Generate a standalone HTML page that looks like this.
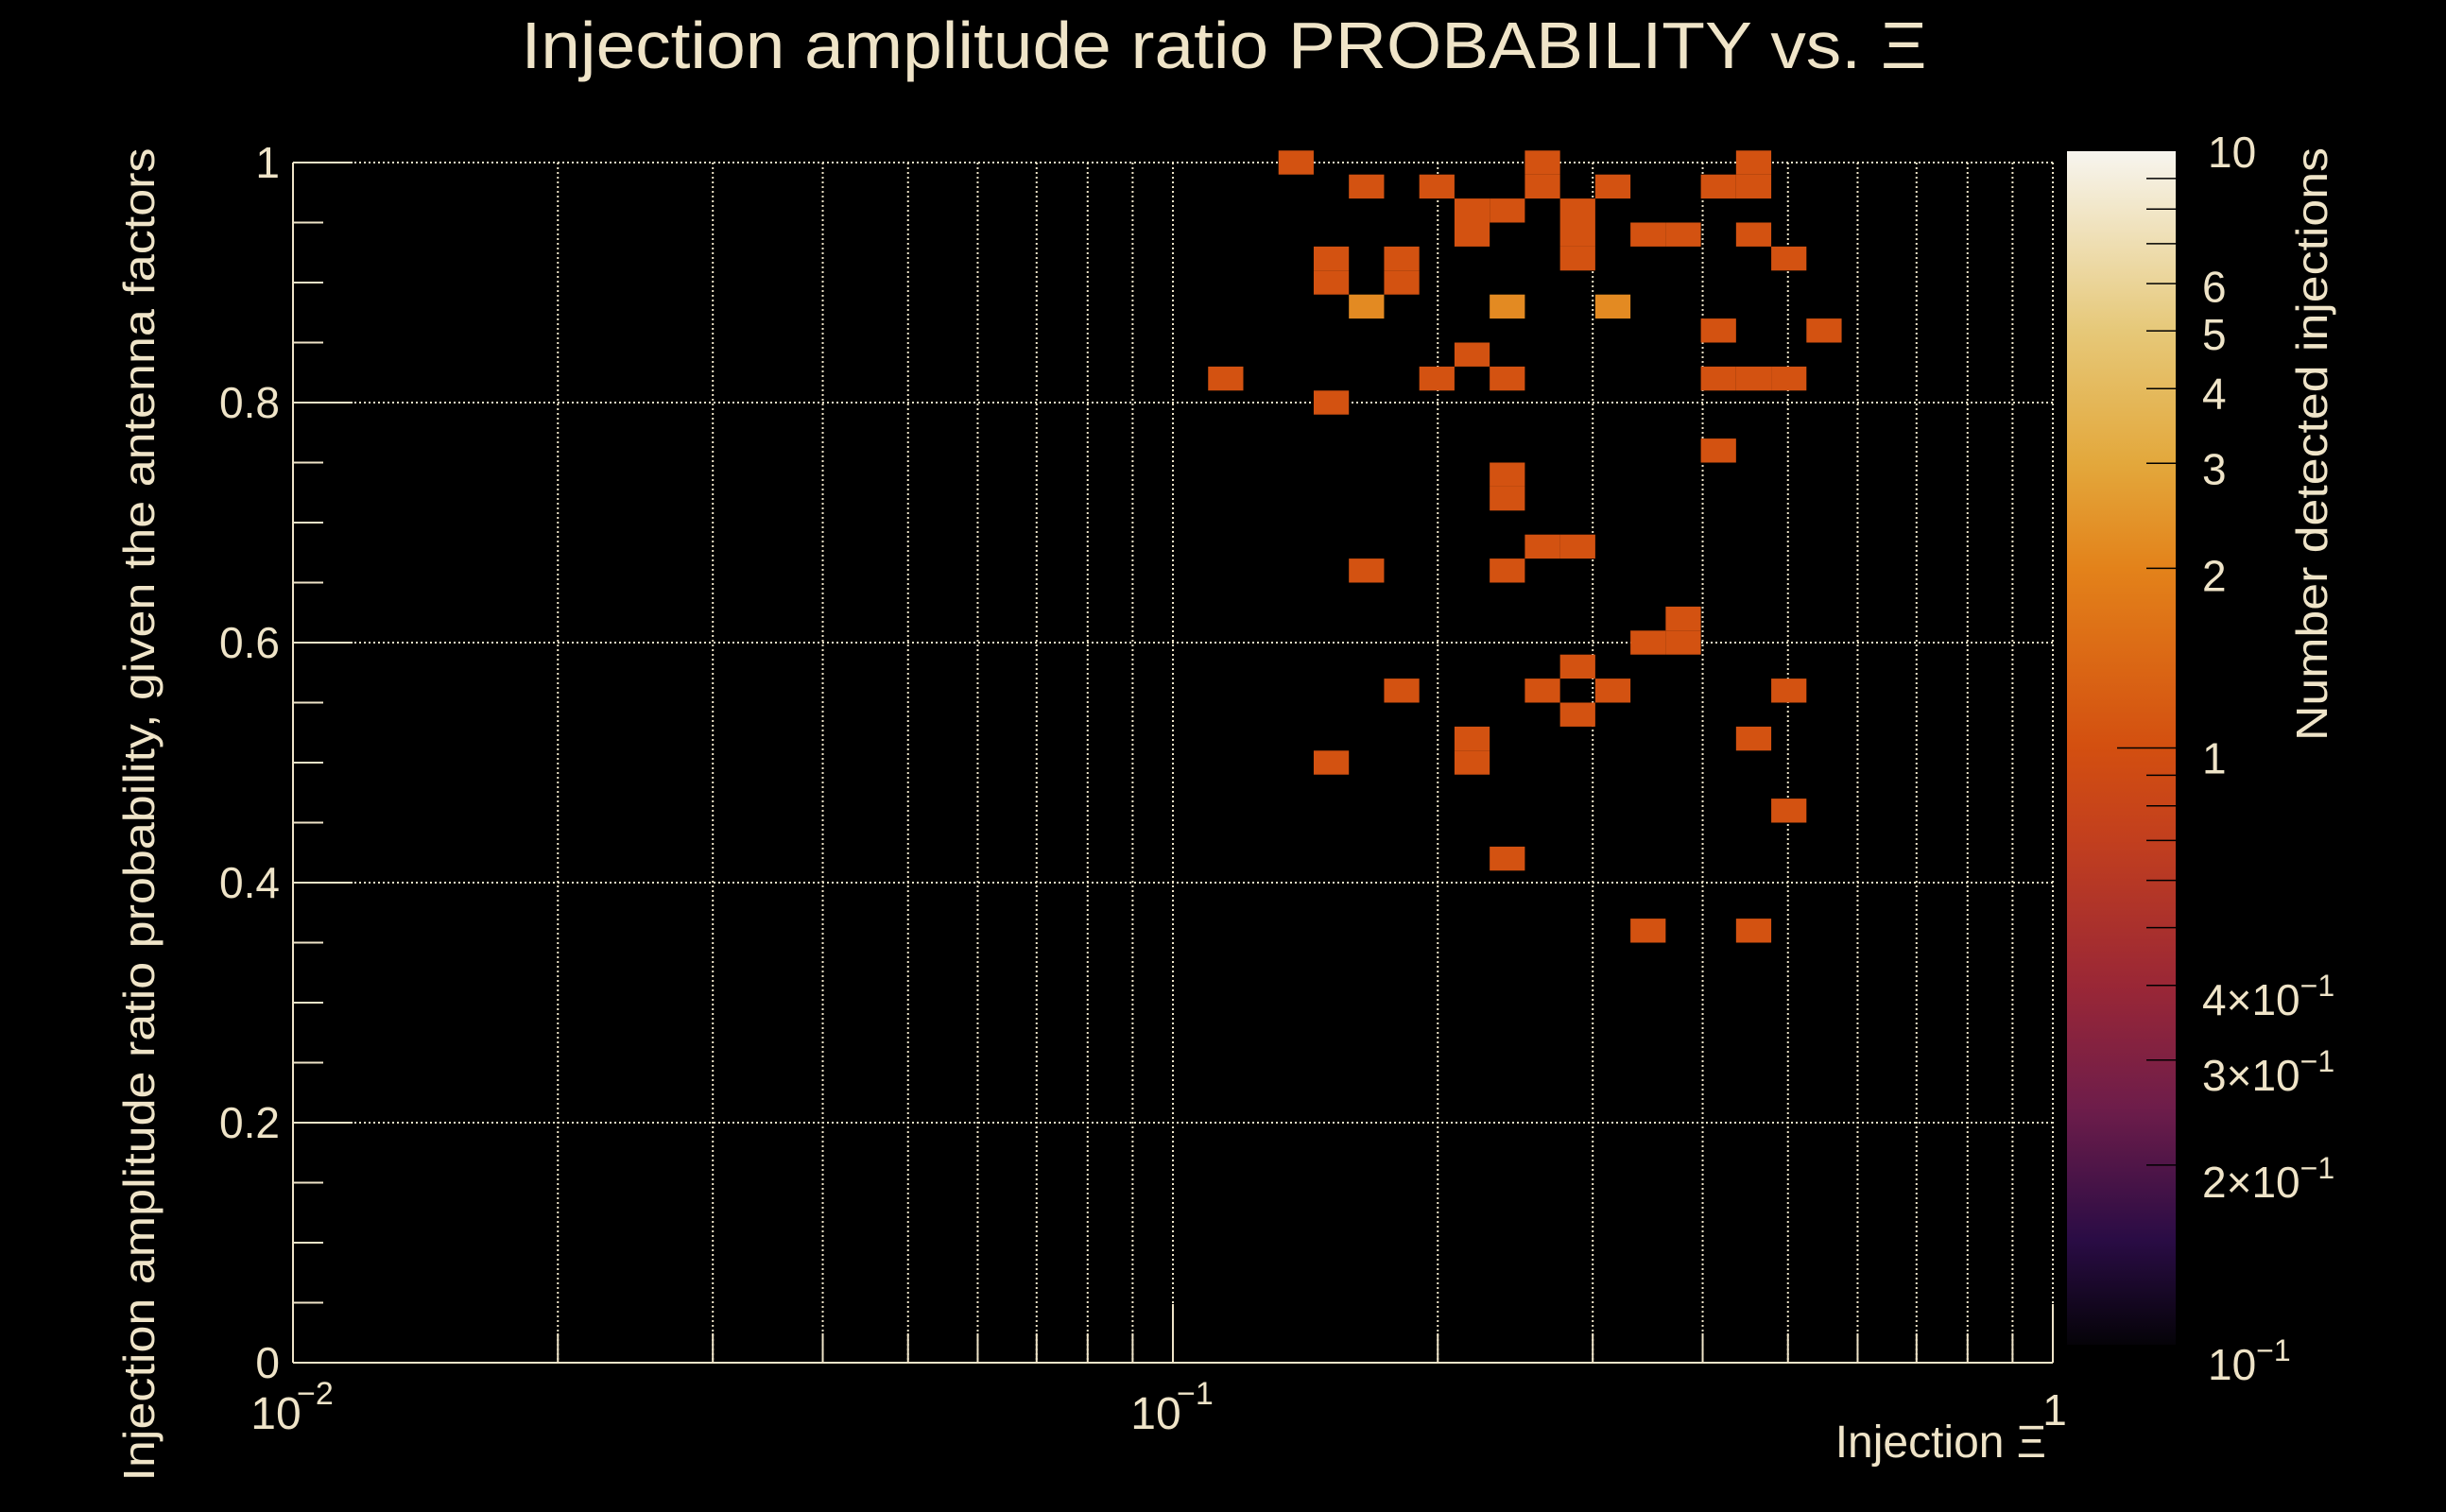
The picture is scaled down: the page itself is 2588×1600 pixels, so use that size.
<!DOCTYPE html>
<html>
<head>
<meta charset="utf-8">
<style>
html,body{margin:0;padding:0;background:#000;}
svg{display:block;}
text{font-family:"Liberation Sans",sans-serif;fill:#efe4c8;}
</style>
</head>
<body>
<svg id="chart" width="2588" height="1600" viewBox="0 0 2588 1600" xmlns="http://www.w3.org/2000/svg">
  <defs>
    <linearGradient id="cbar" x1="0" y1="1" x2="0" y2="0">
      <stop offset="0" stop-color="#050308"/>
      <stop offset="0.088" stop-color="#2a0c45"/>
      <stop offset="0.199" stop-color="#6e1d4a"/>
      <stop offset="0.301" stop-color="#9a2736"/>
      <stop offset="0.423" stop-color="#c23f1e"/>
      <stop offset="0.5" stop-color="#d34f10"/>
      <stop offset="0.65" stop-color="#e3821a"/>
      <stop offset="0.739" stop-color="#e3a83c"/>
      <stop offset="0.849" stop-color="#e6c878"/>
      <stop offset="1" stop-color="#f7f5ef"/>
    </linearGradient>
  </defs>
  <rect x="0" y="0" width="2588" height="1600" fill="#000"/>
  <text x="1295" y="72" font-size="70" text-anchor="middle" textLength="1487" lengthAdjust="spacingAndGlyphs">Injection amplitude ratio PROBABILITY vs.  Ξ</text>
  <g id="grid"></g>
  <g id="cells"></g>
  <g id="axes"></g>
  <text transform="translate(163,862) rotate(-90)" font-size="46" text-anchor="middle" textLength="1411" lengthAdjust="spacingAndGlyphs">Injection amplitude ratio probability, given the antenna factors</text>
  <text x="2165" y="1542" font-size="48" text-anchor="end">Injection Ξ</text>
  <g id="colorbar"></g>
  <text transform="translate(2462,470) rotate(-90)" font-size="46" text-anchor="middle" textLength="628" lengthAdjust="spacingAndGlyphs">Number detected injections</text>
</svg>
<script>
// ---- data ----
const xVals = [0.138,0.263,0.457, 0.166,0.200,0.263,0.316,0.417,0.457, 0.219,0.240,0.288, 0.219,0.288,0.347,0.380,0.457,
  0.151,0.182,0.288,0.501, 0.151,0.182, 0.166,0.240,0.316, 0.417,0.550, 0.219, 0.115,0.200,0.240,0.417,0.457,0.501,
  0.151, 0.417, 0.240, 0.240, 0.263,0.288, 0.166,0.240, 0.380, 0.347,0.380, 0.288, 0.182,0.263,0.316,0.501, 0.288,
  0.219,0.457, 0.151,0.219, 0.501, 0.240, 0.347,0.457];
const yVals = [1.00,1.00,1.00, 0.98,0.98,0.98,0.98,0.98,0.98, 0.96,0.96,0.96, 0.94,0.94,0.94,0.94,0.94,
  0.92,0.92,0.92,0.92, 0.90,0.90, 0.88,0.88,0.88, 0.86,0.86, 0.84, 0.82,0.82,0.82,0.82,0.82,0.82,
  0.80, 0.76, 0.74, 0.72, 0.68,0.68, 0.66,0.66, 0.62, 0.60,0.60, 0.58, 0.56,0.56,0.56,0.56, 0.54,
  0.52,0.52, 0.50,0.50, 0.46, 0.42, 0.36,0.36];
const counts = [1,1,1, 1,1,1,1,1,1, 1,1,1, 1,1,1,1,1, 1,1,1,1, 1,1, 2,2,2, 1,1, 1, 1,1,1,1,1,1,
  1, 1, 1, 1, 1,1, 1,1, 1, 1,1, 1, 1,1,1,1, 1, 1,1, 1,1, 1, 1, 1,1];
const yTickLabels = ["0","0.2","0.4","0.6","0.8","1"];
const yTickValues = [0,0.2,0.4,0.6,0.8,1];
const cbTickValues = [10,6,5,4,3,2,1,0.4,0.3,0.2,0.1];

const NS = "http://www.w3.org/2000/svg";
const X0 = 310, X1 = 2172, Y0 = 1442, Y1 = 172;
const XMIN = -2, XMAX = 0;
function xs(v){ return X0 + (Math.log10(v) - XMIN) / (XMAX - XMIN) * (X1 - X0); }
function ys(v){ return Y0 - v * (Y0 - Y1); }
const NXB = 50, BINW = 0.02;
const CBY0 = 1423, CBY1 = 160, CBX = 2187, CBW = 115;
function cs(v){ return CBY0 - (Math.log10(v) + 1) / 2 * (CBY0 - CBY1); }
const stops = [[0.1,"#050308"],[0.15,"#2a0c45"],[0.25,"#6e1d4a"],[0.4,"#9a2736"],[0.7,"#c23f1e"],[1,"#d35211"],[2,"#e38a22"],[3,"#e3a83c"],[5,"#e6c878"],[10,"#f7f5ef"]];
function hex(c){ return [1,3,5].map(i=>parseInt(c.substr(i,2),16)); }
function color(v){
  const l = Math.log10(v);
  for (let i=0;i<stops.length-1;i++){
    const a=Math.log10(stops[i][0]), b=Math.log10(stops[i+1][0]);
    if (l<=b || i===stops.length-2){
      const t=Math.max(0,Math.min(1,(l-a)/(b-a)));
      const ca=hex(stops[i][1]), cb=hex(stops[i+1][1]);
      return "rgb("+ca.map((x,j)=>Math.round(x+(cb[j]-x)*t)).join(",")+")";
    }
  }
}
function mk(tag, attrs, parent){
  const e=document.createElementNS(NS,tag);
  for (const k in attrs) e.setAttribute(k, attrs[k]);
  parent.appendChild(e); return e;
}
const grid=document.getElementById("grid"), cells=document.getElementById("cells"), axes=document.getElementById("axes"), cb=document.getElementById("colorbar");
const gstyle={stroke:"#efe4c8","stroke-width":2,"stroke-dasharray":"2 3"};

// grid lines
for (let d=-2; d<0; d++){
  for (let m=1; m<=10; m++){
    const v=m*Math.pow(10,d); if (m===1 && d===-2) continue;
    const gx = mk("line", Object.assign({x1:xs(v),x2:xs(v),y1:Y1,y2:Y0},gstyle), grid);
    
    
  }
}
yTickValues.forEach(v=>{
  if (v===0) return;
  const gy = mk("line", Object.assign({x1:X0,x2:X1,y1:ys(v),y2:ys(v)},gstyle), grid);
  
  
});

// cells
for (let i=0;i<xVals.length;i++){
  const col = Math.floor((Math.log10(xVals[i]) - XMIN) / (XMAX - XMIN) * NXB);
  const lx0 = Math.pow(10, XMIN + col*(XMAX-XMIN)/NXB), lx1 = Math.pow(10, XMIN + (col+1)*(XMAX-XMIN)/NXB);
  const row = Math.round(yVals[i]/BINW);
  const yTop = ys((row+0.5)*BINW), yBot = ys((row-0.5)*BINW);
  const r = mk("rect",{x:xs(lx0), y:yTop, width:xs(lx1)-xs(lx0), height:yBot-yTop, fill:color(counts[i])}, cells);
  
  
}

// axes lines
const axl = {stroke:"#efe4c8","stroke-width":2};
let e;
e = mk("line", Object.assign({x1:X0,x2:X0,y1:Y1,y2:Y0},axl), axes);


e = mk("line", Object.assign({x1:X0,x2:X1,y1:Y0,y2:Y0},axl), axes);



// y ticks
for (let k=0;k<=20;k++){
  const v=k*0.05, major=(k%4===0);
  e = mk("line", Object.assign({x1:X0,x2:X0+(major?63:32),y1:ys(v),y2:ys(v)},axl), axes);
  
  
}
yTickValues.forEach((v,i)=>{
  const t = mk("text",{x:296, y:ys(v)+16, "font-size":46, "text-anchor":"end"}, axes);
  t.textContent = yTickLabels[i];
  
  
});
// x ticks
for (let d=-2; d<=0; d++){
  for (let m=1; m<=9; m++){
    const v=m*Math.pow(10,d); if (v>1.0001) break;
    const major=(m===1);
    e = mk("line", Object.assign({x1:xs(v),x2:xs(v),y1:Y0,y2:Y0-(major?62:31)},axl), axes);
    
    
  }
}
[[-2,"10","−2"],[-1,"10","−1"]].forEach(a=>{
  const t = mk("text",{x:xs(Math.pow(10,a[0]))-18, y:1512, "font-size":48, "text-anchor":"middle"}, axes);
  t.textContent=a[1];
  
  
  const s = mk("text",{x:xs(Math.pow(10,a[0]))+4, y:1486, "font-size":34}, axes);
  s.textContent=a[2];
  
  
});
e = mk("text",{x:xs(1)+2, y:1508, "font-size":46, "text-anchor":"middle"}, axes);
e.textContent="1";



// colorbar
e = mk("rect",{x:CBX,y:CBY1,width:CBW,height:CBY0-CBY1,fill:"url(#cbar)"}, cb);


const minorCb=[0.2,0.3,0.4,0.5,0.6,0.7,0.8,0.9,2,3,4,5,6,7,8,9];
minorCb.forEach(v=>{
  e = mk("line",{x1:CBX+CBW-31,x2:CBX+CBW,y1:cs(v),y2:cs(v),stroke:"#000","stroke-width":1.5}, cb);
  
  
});
e = mk("line",{x1:CBX+CBW-62,x2:CBX+CBW,y1:cs(1),y2:cs(1),stroke:"#000","stroke-width":1.5}, cb);


cbTickValues.forEach(v=>{
  const frac = (1 - Math.log10(v)) / 2;
  const y=cs(v)+17+frac*20, g=mk("text",{x:2330,y:y,"font-size":46}, cb);
  
  
  if (v>=1){ g.textContent = String(v); if (v===10) g.setAttribute("x",2336); }
  else if (v===0.1){
    g.setAttribute("x",2336); g.textContent="10";
    const s=mk("tspan",{dy:-20,"font-size":32},g); s.textContent="−1";
  } else {
    g.textContent = Math.round(v*10)+"×10";
    const s=mk("tspan",{dy:-20,"font-size":32},g); s.textContent="−1";
  }
});
</script>
</body>
</html>
